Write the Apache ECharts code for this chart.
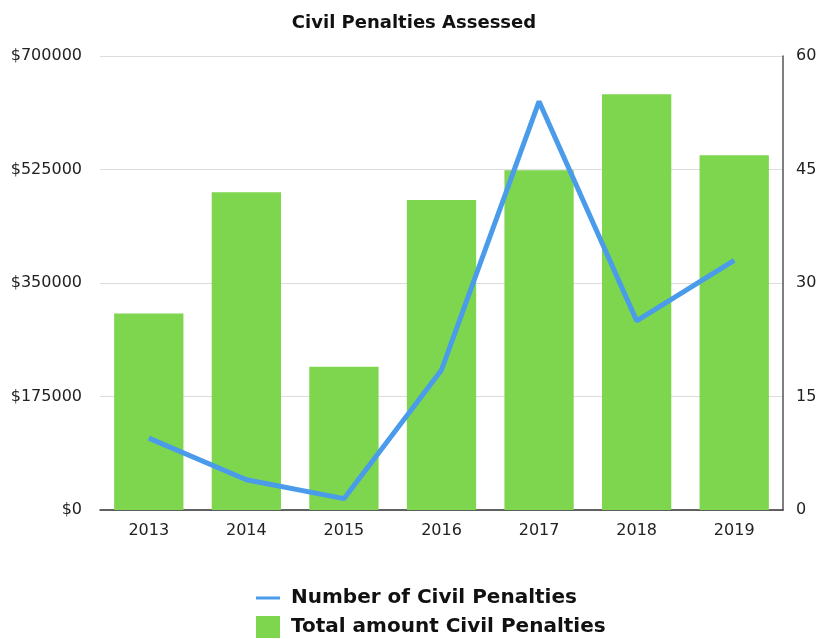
<!DOCTYPE html>
<html>
<head>
<meta charset="utf-8">
<script src="https://cdn.jsdelivr.net/npm/echarts@6/dist/echarts.min.js"></script>
<style>html,body{margin:0;padding:0;background:#fff}#c{width:828px;height:639px}</style>
</head>
<body>
<div id="c"></div>
<script>
const years = ['2013','2014','2015','2016','2017','2018','2019'];
const totalAmount = [303000, 490000, 221000, 478000, 524000, 641000, 547000];
const numberPenalties = [9.5, 4, 1.5, 18.5, 54, 25, 33];
const leftTicks = [0, 175000, 350000, 525000, 700000];
const rightTicks = [0, 15, 30, 45, 60];

const font = '"DejaVu Sans", "Liberation Sans", Arial, sans-serif';
const chart = echarts.init(document.getElementById('c'));
chart.setOption({
  animation: false,
  textStyle: { fontFamily: font },
  title: {
    text: 'Civil Penalties Assessed',
    left: 'center', top: 9,
    textStyle: { fontFamily: font, fontSize: 18, fontWeight: 'bold', color: '#111' }
  },
  grid: { left: 100, right: 45, top: 56, bottom: 129 },
  legend: {
    orient: 'vertical',
    left: 256, top: 587,
    padding: 0,
    itemWidth: 24, itemHeight: 22, itemGap: 7,
    textStyle: { fontFamily: font, fontSize: 20, fontWeight: 'bold', color: '#111', padding: [0,0,0,6] },
    data: [
      { name: 'Number of Civil Penalties', icon: 'path://M0,0 M24,22 M0,9.5 L24,9.5 L24,12.5 L0,12.5 Z', itemStyle: { color: '#4A9BEA' } },
      { name: 'Total amount Civil Penalties', icon: 'rect' }
    ]
  },
  xAxis: {
    type: 'category',
    data: years,
    axisLine: { lineStyle: { color: '#333', width: 1.5 } },
    axisTick: { show: false },
    axisLabel: { fontSize: 16, color: '#222', margin: 13 }
  },
  yAxis: [
    {
      type: 'value', min: leftTicks[0], max: leftTicks[leftTicks.length-1],
      interval: leftTicks[1] - leftTicks[0],
      axisLine: { show: false }, axisTick: { show: false },
      axisLabel: { fontSize: 16, color: '#222', margin: 18, formatter: v => '$' + v },
      splitLine: { lineStyle: { color: '#dcdcdc' } }
    },
    {
      type: 'value', min: rightTicks[0], max: rightTicks[rightTicks.length-1],
      interval: rightTicks[1] - rightTicks[0],
      position: 'right',
      axisLine: { show: true, lineStyle: { color: '#555', width: 1.5 } },
      axisTick: { show: false },
      axisLabel: { fontSize: 16, color: '#222', margin: 13 },
      splitLine: { show: false }
    }
  ],
  series: [
    {
      name: 'Total amount Civil Penalties',
      type: 'bar',
      yAxisIndex: 0,
      data: totalAmount,
      barCategoryGap: '29%',
      itemStyle: { color: '#7ED54E' },
      z: 1
    },
    {
      name: 'Number of Civil Penalties',
      type: 'line',
      yAxisIndex: 1,
      data: numberPenalties,
      symbol: 'none',
      lineStyle: { color: '#4A9BEA', width: 5 },
      itemStyle: { color: '#4A9BEA' },
      z: 3
    }
  ]
});
</script>
</body>
</html>
